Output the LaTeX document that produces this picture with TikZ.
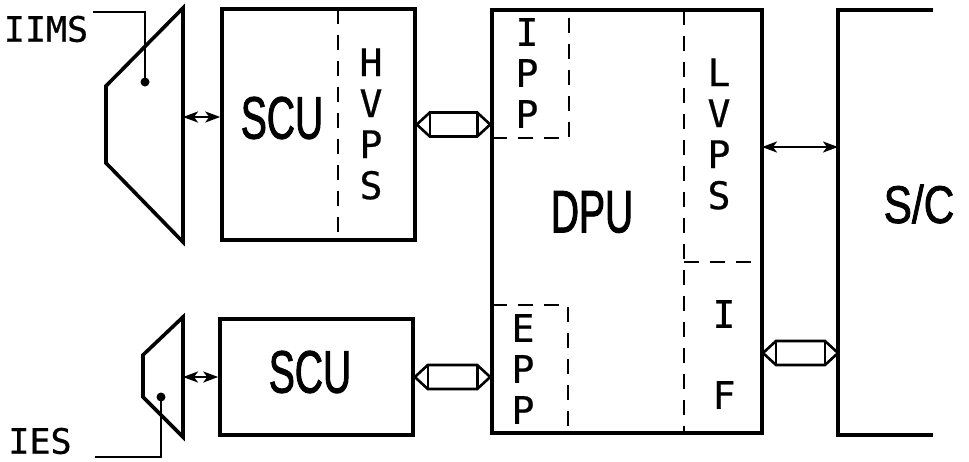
\documentclass[tikz,border=0pt]{standalone}
\usepackage{fontspec}
\usetikzlibrary{calc,arrows.meta}
\newfontfamily\labfont[FakeBold=0.6]{DejaVu Sans Mono}
\newfontfamily\bigfont[FakeStretch=0.65,FakeBold=1.5]{Liberation Sans}
\newfontfamily\scfont[FakeStretch=0.8,FakeBold=1.5]{Liberation Sans}
\newcommand{\busconn}[2]{%
  \draw[busline] (#1) -- ($(#1)+(13,-12)$) -- ($(#2)+(-13,-12)$) -- (#2) -- ($(#2)+(-13,12)$) -- ($(#1)+(13,12)$) -- cycle;
  \draw[busline] ($(#1)+(13,-12)$) -- ($(#1)+(13,12)$);
  \draw[busline] ($(#2)+(-13,-12)$) -- ($(#2)+(-13,12)$);
}
\begin{document}
\begin{tikzpicture}[x=1pt,y={(0pt,-1pt)},
  box/.style={draw, line width=3.6pt, inner sep=0pt},
  outline/.style={line width=3.6pt, line join=miter},
  dashline/.style={line width=2.8pt, dash pattern=on 15pt off 11pt},
  dblarrow/.style={line width=2.4pt, {Stealth[length=15pt,width=11pt,inset=4pt]}-{Stealth[length=15pt,width=11pt,inset=4pt]}},
  busline/.style={line width=2.6pt, line join=miter},
  biglab/.style={inner sep=0pt, font=\bigfont\fontsize{60}{60}\selectfont},
  stack/.style={inner sep=0pt, align=center, font=\labfont\fontsize{38}{41}\selectfont},
  smalllab/.style={inner sep=0pt, font=\labfont\fontsize{35}{35}\selectfont}]
\useasboundingbox (0,0) rectangle (969,461);

% boxes
\node[box, minimum width=193pt, minimum height=231pt] (scuA) at (318.5,124.5) {};
\node[box, minimum width=270pt, minimum height=423pt] (dpu) at (627,221.5) {};
\node[box, minimum width=193pt, minimum height=116pt] (scuB) at (316.5,377) {};
\coordinate (scTL) at (838,10);
\coordinate (scBL) at (838,435);
\draw[outline] (933,10) -- (scTL) -- (scBL) -- (933,435);

% sensor heads
\draw[outline] (183,8) -- (106,86) -- (106,163) -- (183,242) -- cycle;
\draw[outline] (183,317) -- (143,355) -- (143,397) -- (183,437) -- cycle;
\coordinate (iimsDot) at (145,82);
\coordinate (iesDot) at (161,397);
\fill (iimsDot) circle (4.5pt);
\fill (iesDot) circle (4.5pt);

% labels of sensors
\node[smalllab] (iims) at (46,29) {IIMS};
\node[smalllab] (ies) at (40,441) {IES};
\coordinate (iimsL) at (93,12);
\draw[line width=2pt] (iimsL) -- (iimsL -| iimsDot) -- (iimsDot);
\coordinate (iesL) at (95,457);
\draw[line width=2pt] (iesL) -- (iesL -| iesDot) -- (iesDot);

% dashed partitions
\draw[dashline] (338,9) -- (338,240);
\draw[dashline] (492,138) -- (569,138) -- (569,10);
\draw[dashline] (684,10) -- (684,433);
\draw[dashline] (684,262) -- (762,262);
\draw[dashline] (492,305) -- (568,305) -- (568,433);

% text
\node[biglab] (tscuA) at (282,118) {SCU};
\node[biglab] (tscuB) at (310,372) {SCU};
\node[biglab] (tdpu) at (592,212) {DPU};
\node[inner sep=0pt, font=\scfont\fontsize{53}{53}\selectfont] (tsc) at (919,204) {S/C};
\node[stack] (hvps) at (371,124) {H\\V\\P\\S};
\node[stack] (ipp) at (527,73) {I\\P\\P};
\node[stack] (lvps) at (719,134) {L\\V\\P\\S};
\node[stack] (epp) at (523,369) {E\\P\\P};
\node[stack] (ifI) at (724,314) {I};
\node[stack] (ifF) at (724,395) {F};

% simple double arrows
\coordinate (iimsR) at (183,117);
\draw[dblarrow] (iimsR) -- (iimsR -| scuA.west);
\coordinate (iesR) at (183,377);
\draw[dblarrow] (iesR) -- (scuB.west);
\coordinate (dpuSC) at (762,147);
\draw[dblarrow] (dpuSC) -- (dpuSC -| scTL);

% bus connectors
\coordinate (busA1) at (scuA.east);
\coordinate (busA2) at (busA1 -| dpu.west);
\busconn{busA1}{busA2}
\coordinate (busB1) at (scuB.east);
\coordinate (busB2) at (busB1 -| dpu.west);
\busconn{busB1}{busB2}
\coordinate (busC1) at (763,353);
\coordinate (busC2) at (busC1 -| scTL);
\busconn{busC1}{busC2}
\end{tikzpicture}
\end{document}
